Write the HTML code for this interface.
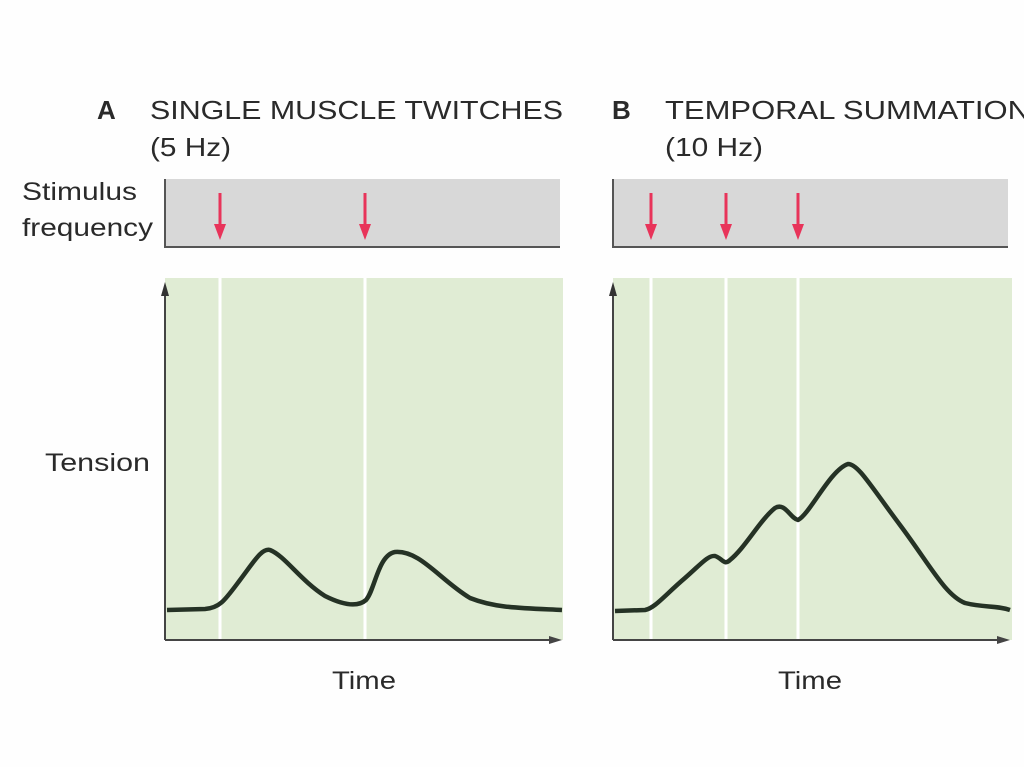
<!DOCTYPE html>
<html><head><style>
html,body{margin:0;padding:0;background:#fff;}
svg{display:block;}
text{font-family:"Liberation Sans",sans-serif;fill:#2a2a2a;}
</style></head><body>
<svg width="1024" height="767" viewBox="0 0 1024 767" xmlns="http://www.w3.org/2000/svg">
<rect width="1024" height="767" fill="#fefefe"/>
<text x="97" y="119" font-size="26" font-weight="bold">A</text>
<text x="150" y="119" font-size="26" textLength="413" lengthAdjust="spacingAndGlyphs">SINGLE MUSCLE TWITCHES</text>
<text x="150" y="156" font-size="26" textLength="81" lengthAdjust="spacingAndGlyphs">(5 Hz)</text>
<text x="612" y="119" font-size="26" font-weight="bold">B</text>
<text x="665" y="119" font-size="26" textLength="365" lengthAdjust="spacingAndGlyphs">TEMPORAL SUMMATION</text>
<text x="665" y="156" font-size="26" textLength="98" lengthAdjust="spacingAndGlyphs">(10 Hz)</text>
<text x="22" y="200" font-size="25" textLength="115" lengthAdjust="spacingAndGlyphs">Stimulus</text>
<text x="22" y="236" font-size="25" textLength="131" lengthAdjust="spacingAndGlyphs">frequency</text>
<text x="45" y="471" font-size="25" textLength="105" lengthAdjust="spacingAndGlyphs">Tension</text>
<text x="332" y="689" font-size="25" textLength="64" lengthAdjust="spacingAndGlyphs">Time</text>
<text x="778" y="689" font-size="25" textLength="64" lengthAdjust="spacingAndGlyphs">Time</text>

<!-- Panel A -->
<rect x="165" y="179" width="395" height="69" fill="#d8d8d8"/>
<line x1="165" y1="179" x2="165" y2="248" stroke="#555" stroke-width="2"/>
<line x1="165" y1="247" x2="560" y2="247" stroke="#555" stroke-width="2"/>
<rect x="165" y="278" width="398" height="362" fill="#e0ecd4"/>
<line x1="220" y1="278" x2="220" y2="640" stroke="#fff" stroke-width="3"/>
<line x1="365" y1="278" x2="365" y2="640" stroke="#fff" stroke-width="3"/>
<line x1="165" y1="290" x2="165" y2="640" stroke="#444" stroke-width="2"/>
<polygon points="165,282 161,296 169,296" fill="#333"/>
<line x1="165" y1="640" x2="555" y2="640" stroke="#444" stroke-width="2"/>
<polygon points="562,640 549,636 549,644" fill="#444"/>
<g stroke="#e8345a" stroke-width="3" fill="#e8345a">
<line x1="220" y1="193" x2="220" y2="228"/><polygon points="214,224 226,224 220,240" stroke="none"/>
<line x1="365" y1="193" x2="365" y2="228"/><polygon points="359,224 371,224 365,240" stroke="none"/>
</g>
<path d="M167,610 L205,609 C220,608 225,600 240,580 C255,560 262,548 270,550 C285,556 300,580 325,596 C345,606 358,607 366,600 C375,590 378,555 395,552 C420,550 440,580 470,598 C495,608 520,608 562,610" fill="none" stroke="#253225" stroke-width="4.5" stroke-linejoin="round"/>

<!-- Panel B -->
<rect x="613" y="179" width="395" height="69" fill="#d8d8d8"/>
<line x1="613" y1="179" x2="613" y2="248" stroke="#555" stroke-width="2"/>
<line x1="613" y1="247" x2="1008" y2="247" stroke="#555" stroke-width="2"/>
<rect x="613" y="278" width="399" height="362" fill="#e0ecd4"/>
<line x1="651" y1="278" x2="651" y2="640" stroke="#fff" stroke-width="3"/>
<line x1="726" y1="278" x2="726" y2="640" stroke="#fff" stroke-width="3"/>
<line x1="798" y1="278" x2="798" y2="640" stroke="#fff" stroke-width="3"/>
<line x1="613" y1="290" x2="613" y2="640" stroke="#444" stroke-width="2"/>
<polygon points="613,282 609,296 617,296" fill="#333"/>
<line x1="613" y1="640" x2="1003" y2="640" stroke="#444" stroke-width="2"/>
<polygon points="1010,640 997,636 997,644" fill="#444"/>
<g fill="#e8345a" stroke="#e8345a" stroke-width="3">
<line x1="651" y1="193" x2="651" y2="228"/><polygon points="645,224 657,224 651,240" stroke="none"/>
<line x1="726" y1="193" x2="726" y2="228"/><polygon points="720,224 732,224 726,240" stroke="none"/>
<line x1="798" y1="193" x2="798" y2="228"/><polygon points="792,224 804,224 798,240" stroke="none"/>
</g>
<path d="M615,611 L645,610 C655,608 665,595 685,578 C700,565 708,555 715,556 C722,558 724,566 730,560 C745,548 760,520 775,508 C785,502 790,518 798,520 C810,514 830,470 848,464 C858,464 870,485 900,525 C930,565 945,595 965,603 C985,608 995,605 1010,610" fill="none" stroke="#253225" stroke-width="4.5" stroke-linejoin="round"/>
</svg>
</body></html>
